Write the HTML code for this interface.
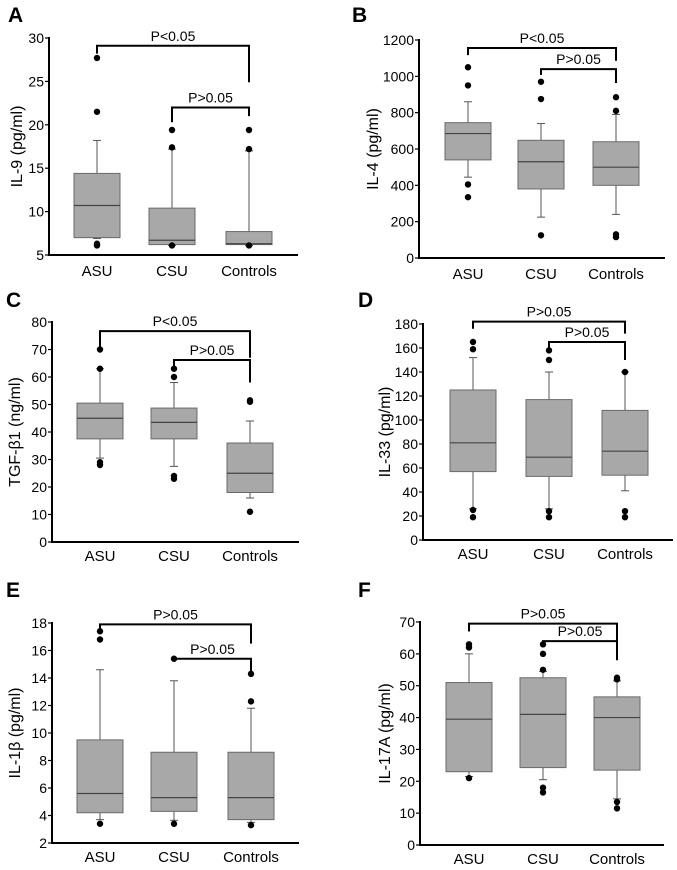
<!DOCTYPE html>
<html><head><meta charset="utf-8"><style>
body{margin:0;background:#fff}
svg{display:block;font-family:"Liberation Sans",sans-serif}
</style></head><body>
<svg id="fig" width="677" height="870"></svg>
<script>
const categories=["ASU","CSU","Controls"];
// box stats per group: [low, q1, median, q3, high]
const statsA=[[6.9,7.0,10.7,14.4,18.2],[6.1,6.2,6.7,10.4,17.2],[6.1,6.2,6.3,7.7,17.0]];
const outA=[[27.7,21.5,6.3,6.1],[19.4,17.4,6.1],[19.4,17.2,6.1]];
const statsB=[[445,540,685,745,860],[225,380,530,648,740],[240,400,500,640,790]];
const outB=[[1050,950,405,335],[970,875,125],[885,810,130,115]];
const statsC=[[30.5,37.5,45,50.5,63],[27.5,37.5,43.5,48.7,58],[16,18,25,36,44]];
const outC=[[70,63,29,28],[63,60,24,23],[51.5,51,11]];
const statsD=[[26,57,81,125,152],[26,53,69,117,140],[41,54,74,108,140]];
const outD=[[165,159,25,19],[158,150,24,19],[140,24,19]];
const statsE=[[3.7,4.2,5.6,9.5,14.6],[3.65,4.3,5.3,8.6,13.8],[3.5,3.7,5.3,8.6,11.8]];
const outE=[[17.4,16.8,3.4],[15.4,3.4],[14.3,12.3,3.3]];
const statsF=[[21.5,23,39.5,51,60],[20.5,24.3,41,52.5,54.5],[14.5,23.5,40,46.5,51.5]];
const outF=[[63,62,21],[63,60,55,18,16.5],[52.5,52,13.5,11.5]];
// brackets: [fromIdx,toIdx,top,leftEnd,rightEnd,label]
const brA=[[0,2,29.1,28.2,24.9,"P<0.05"],[1,2,22.0,20.3,21.0,"P>0.05"]];
const brB=[[0,2,1156,1117,1085,"P<0.05"],[1,2,1040,1007,963,"P>0.05"]];
const brC=[[0,2,76.7,70.5,67,"P<0.05"],[1,2,66.2,64,58,"P>0.05"]];
const brD=[[0,2,182,176,172,"P>0.05"],[1,2,165,160,150,"P>0.05"]];
const brE=[[0,2,17.9,17.4,16.5,"P>0.05"],[1,2,15.4,15.2,14.5,"P>0.05"]];
const brF=[[0,2,69.5,67,63,"P>0.05"],[1,2,64,63,58,"P>0.05"]];
const ticksA=[5,10,15,20,25,30],ticksB=[0,200,400,600,800,1000,1200],ticksC=[0,10,20,30,40,50,60,70,80],
ticksD=[0,20,40,60,80,100,120,140,160,180],ticksE=[2,4,6,8,10,12,14,16,18],ticksF=[0,10,20,30,40,50,60,70];

const NS="http://www.w3.org/2000/svg";
const svg=document.getElementById('fig');
function mk(tag,at,parent,txt){const e=document.createElementNS(NS,tag);for(const k in at)e.setAttribute(k,at[k]);if(txt!==undefined)e.textContent=txt;(parent||svg).appendChild(e);return e;}

const panels=[
 {id:"a",letter:"A",lx:8,ly:22,ax:49,axEnd:298,yTop:38,yBot:255,vmin:5,vmax:30,cx:[97,172,249],labY:276,title:"IL-9 (pg/ml)",tx:22,stats:statsA,out:outA,br:brA,ticks:ticksA},
 {id:"b",letter:"B",lx:352,ly:22,ax:419,axEnd:665,yTop:40,yBot:258,vmin:0,vmax:1200,cx:[468,541,616],labY:279,title:"IL-4 (pg/ml)",tx:378,stats:statsB,out:outB,br:brB,ticks:ticksB},
 {id:"c",letter:"C",lx:6,ly:307,ax:52,axEnd:299,yTop:322,yBot:542,vmin:0,vmax:80,cx:[100,174,250],labY:561,title:"TGF-β1 (ng/ml)",tx:20,stats:statsC,out:outC,br:brC,ticks:ticksC},
 {id:"d",letter:"D",lx:358,ly:307,ax:423,axEnd:673,yTop:324,yBot:540,vmin:0,vmax:180,cx:[473,549,625],labY:559,title:"IL-33 (pg/ml)",tx:390,stats:statsD,out:outD,br:brD,ticks:ticksD},
 {id:"e",letter:"E",lx:6,ly:597,ax:52,axEnd:299,yTop:623,yBot:843,vmin:2,vmax:18,cx:[100,174,251],labY:862,title:"IL-1β (pg/ml)",tx:20,stats:statsE,out:outE,br:brE,ticks:ticksE},
 {id:"f",letter:"F",lx:358,ly:597,ax:420,axEnd:664,yTop:622,yBot:845,vmin:0,vmax:70,cx:[469,543,617],labY:864,title:"IL-17A (pg/ml)",tx:390,stats:statsF,out:outF,br:brF,ticks:ticksF}
];

panels.forEach(p=>{
 const g=mk('g',{});
 
 
 const y=v=>p.yBot-(v-p.vmin)/(p.vmax-p.vmin)*(p.yBot-p.yTop);
 const L=mk('text',{x:p.lx,y:p.ly,'font-size':21,'font-weight':'bold',fill:'#000'},g,p.letter);
 
 
 const T=mk('text',{x:p.tx,y:(p.yTop+p.yBot)/2,'font-size':16,'text-anchor':'middle',transform:`rotate(-90 ${p.tx} ${(p.yTop+p.yBot)/2})`},g,p.title);
 
 
 const ya=mk('line',{x1:p.ax,x2:p.ax,y1:p.yTop-1,y2:p.yBot+1,stroke:'#000','stroke-width':2},g);
 
 
 const xa=mk('line',{x1:p.ax-1,x2:p.axEnd,y1:p.yBot,y2:p.yBot,stroke:'#000','stroke-width':2},g);
 
 
 p.ticks.forEach(t=>{
  mk('line',{x1:p.ax-4,x2:p.ax,y1:y(t),y2:y(t),stroke:'#000','stroke-width':1.2},g);
  const tl=mk('text',{x:p.ax-5,y:y(t)+5,'font-size':14,'text-anchor':'end'},g,t);
  
  
 });
 categories.forEach((c,i)=>{
  const cl=mk('text',{x:p.cx[i],y:p.labY,'font-size':15,'text-anchor':'middle'},g,c);
  
  
  const s=p.stats[i],x=p.cx[i],hw=23;
  mk('line',{x1:x,x2:x,y1:y(s[4]),y2:y(s[0]),stroke:'#555','stroke-width':1},g);
  mk('line',{x1:x-4,x2:x+4,y1:y(s[4]),y2:y(s[4]),stroke:'#555','stroke-width':1},g);
  mk('line',{x1:x-4,x2:x+4,y1:y(s[0]),y2:y(s[0]),stroke:'#555','stroke-width':1},g);
  const b=mk('rect',{x:x-hw,y:y(s[3]),width:2*hw,height:y(s[1])-y(s[3]),fill:'#a8a8a8',stroke:'#6a6a6a','stroke-width':1},g);
  
  
  mk('line',{x1:x-hw,x2:x+hw,y1:y(s[2]),y2:y(s[2]),stroke:'#444','stroke-width':1.2},g);
  p.out[i].forEach(v=>{
   const d=mk('circle',{cx:x,cy:y(v),r:3.2,fill:'#000'},g);
   
   
  });
 });
 p.br.forEach(b=>{
  const x1=p.cx[b[0]],x2=p.cx[b[1]];
  const pl=mk('polyline',{points:`${x1},${y(b[3])} ${x1},${y(b[2])} ${x2},${y(b[2])} ${x2},${y(b[4])}`,fill:'none',stroke:'#000','stroke-width':2},g);
  
  
  const tt=mk('text',{x:(x1+x2)/2,y:y(b[2])-5,'font-size':14,'text-anchor':'middle'},g,b[5]);
  
  
 });
});
</script>
</body></html>
